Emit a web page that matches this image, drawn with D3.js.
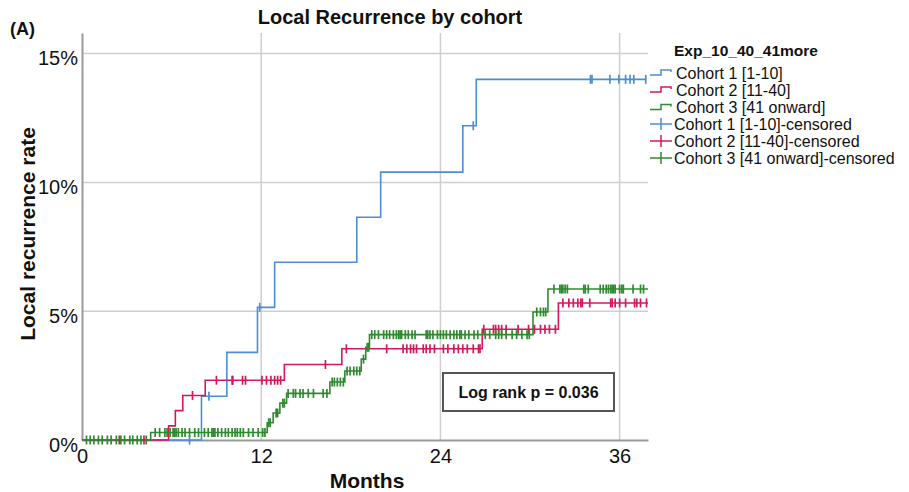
<!DOCTYPE html>
<html>
<head>
<meta charset="utf-8">
<script src="https://cdn.jsdelivr.net/npm/d3@7"></script>
<style>
  html, body { margin: 0; padding: 0; background: #fff; }
  svg { display: block; font-family: "Liberation Sans", Arial, Helvetica, sans-serif; }
</style>
</head>
<body>
<svg id="chart" width="909" height="492"></svg>
<script>
// Axis ticks
const xTicks = [0, 12, 24, 36];
const yTicks = [0, 5, 10, 15];

// Cohort labels
const cohortNames = ["Cohort 1 [1-10]", "Cohort 2 [11-40]", "Cohort 3 [41 onward]"];
const legendTitle = "Exp_10_40_41more";

// Cumulative local recurrence (%) — step times (months) and levels after each step
const c1Times = [0, 8.0, 9.7, 11.75, 12.9, 18.4, 20.0, 25.5, 26.4];
const c1Rates = [0, 1.7, 3.4, 5.15, 6.9, 8.65, 10.4, 12.2, 14.0];
const c1End = 37.75;
const c1Censored = [7.2, 8.5, 11.9, 26.2, 34.05, 34.15, 35.35, 35.95, 36.4, 36.7, 36.95, 37.75];

const c2Times = [0, 5.8, 6.25, 6.75, 8.25, 13.55, 17.4, 26.8, 31.9];
const c2Rates = [0, 0.55, 1.14, 1.73, 2.32, 2.93, 3.54, 4.3, 5.32];
const c2End = 37.9;
const c2Censored = [2.5, 4.15, 7.4, 9.0, 10.05, 10.1, 10.75, 10.95, 12.05, 12.35, 12.65, 12.9, 13.1, 13.3,
  16.3, 17.7, 20.4, 21.5, 21.75, 22.0, 22.2, 22.4, 22.85, 23.05, 23.3, 23.6, 24.2, 24.5, 24.9, 25.2,
  25.5, 25.8, 26.2, 26.55, 26.65, 26.9, 27.55, 27.7, 27.9, 28.1, 28.4, 29.2, 29.9, 30.3, 30.7, 31.0,
  31.3, 31.7, 32.2, 32.6, 32.9, 33.2, 33.4, 33.5, 34.0, 35.4, 35.5, 35.7, 36.0, 36.4, 37.0, 37.15,
  37.4, 37.8];

const c3Times = [0, 4.6, 12.4, 12.8, 13.25, 13.7, 16.6, 17.6, 18.7, 19.0, 19.25, 30.2, 31.2];
const c3Rates = [0, 0.29, 0.67, 1.05, 1.43, 1.81, 2.25, 2.68, 3.14, 3.6, 4.09, 4.97, 5.86];
const c3End = 37.9;
const c3Censored = [0.3, 0.55, 0.8, 1.1, 1.35, 1.7, 1.95, 2.3, 2.6, 2.85, 3.2, 3.4, 3.7, 3.95, 4.3,
  4.9, 5.2, 5.55, 5.7, 5.9, 6.1, 6.2, 6.3, 6.45, 6.7, 6.9, 7.2, 7.55, 7.8, 8.2, 8.45, 8.7, 8.8, 8.9,
  9.1, 9.35, 9.6, 9.8, 10.05, 10.25, 10.4, 10.6, 10.8, 11.15, 11.45, 11.8, 12.1, 12.25,
  12.5, 12.6, 13.0, 13.1, 13.45, 13.55,
  13.8, 14.15, 14.3, 14.6, 14.8, 15.15, 15.5, 16.15, 16.4,
  16.75, 16.9, 17.1, 17.3, 17.5, 17.75, 17.95, 18.2, 18.4, 18.6, 18.85, 19.1, 19.2,
  19.4, 19.6, 19.85, 20.2, 20.4, 20.6, 20.85, 21.05, 21.2, 21.3, 21.4, 21.65, 21.85, 22.1, 22.3,
  23.05, 23.15, 23.3, 23.5, 23.8, 24.0, 24.2, 24.4, 24.65, 24.9, 25.1, 25.3, 25.4, 25.65, 25.9,
  26.25, 26.5, 27.0, 27.3, 27.7, 27.9, 28.1, 28.4, 28.8, 29.1, 29.45, 29.8, 29.95,
  30.45, 30.7, 30.9, 31.05,
  31.6, 32.0, 32.1, 32.2, 32.35, 32.5, 33.6, 33.7, 33.9, 34.7, 34.9, 35.1, 35.25, 35.4, 35.5,
  35.6, 35.7, 36.0, 36.15, 36.25, 36.9, 37.4, 37.6];

const logRankText = "Log rank p = 0.036";

const colors = ["#4b8ed6", "#d3195a", "#2f8a2f"];

const cohorts = [
  { times: c1Times, rates: c1Rates, end: c1End, censored: c1Censored },
  { times: c2Times, rates: c2Rates, end: c2End, censored: c2Censored },
  { times: c3Times, rates: c3Rates, end: c3End, censored: c3Censored }
];

const svg = d3.select("#chart");

const x = d3.scaleLinear().domain([0, 37.9]).range([82, 648]);
const y = d3.scaleLinear().domain([0, 15.8]).range([440, 33]);

// Gridlines
const grid = svg.append("g");
grid.selectAll("line.h").data(yTicks.filter(d => d > 0)).join("line")
  .attr("x1", x(0)).attr("x2", x(37.9))
  .attr("y1", d => y(d)).attr("y2", d => y(d))
  .attr("stroke", "#cfcfcf").attr("stroke-width", 1.5);
grid.selectAll("line.v").data(xTicks.filter(d => d > 0)).join("line")
  .attr("x1", d => x(d)).attr("x2", d => x(d))
  .attr("y1", y(15.8)).attr("y2", y(0))
  .attr("stroke", "#cfcfcf").attr("stroke-width", 1.5);

// Axes
const xAxis = svg.append("g").attr("transform", `translate(0,${y(0)})`)
  .call(d3.axisBottom(x).tickValues(xTicks).tickSize(0).tickPadding(9));
const yAxis = svg.append("g").attr("transform", `translate(${x(0)},0)`)
  .call(d3.axisLeft(y).tickValues(yTicks).tickSize(0).tickPadding(4).tickFormat(d => d + "%"));
[xAxis, yAxis].forEach(a => {
  a.select(".domain").attr("stroke", "#9a9a9a").attr("stroke-width", 2);
  a.selectAll("text").attr("font-size", 20).attr("fill", "#111")
    .attr("font-family", "'Liberation Sans', Arial, sans-serif");
});
yAxis.selectAll(".tick text").attr("dy", "0.55em");

// Step curves
const stepValue = (c, t) => {
  let v = 0;
  for (let i = 0; i < c.times.length; i++) if (c.times[i] <= t) v = c.rates[i];
  return v;
};
const line = d3.line().x(d => x(d[0])).y(d => y(d[1])).curve(d3.curveStepAfter);

cohorts.forEach((c, i) => {
  const pts = c.times.map((t, k) => [t, c.rates[k]]);
  pts.push([c.end, c.rates[c.rates.length - 1]]);
  svg.append("path").datum(pts).attr("d", line)
    .attr("fill", "none").attr("stroke", colors[i]).attr("stroke-width", 1.6);
});

// Censor marks
cohorts.forEach((c, i) => {
  svg.append("g").selectAll("line").data(c.censored).join("line")
    .attr("x1", d => x(d)).attr("x2", d => x(d))
    .attr("y1", d => y(stepValue(c, d)) - 4.5)
    .attr("y2", d => y(stepValue(c, d)) + 4.5)
    .attr("stroke", colors[i]).attr("stroke-width", 1.7);
});

// Titles
svg.append("text").attr("x", 390).attr("y", 24).attr("text-anchor", "middle")
  .attr("font-size", 20).attr("font-weight", "bold").attr("fill", "#111")
  .text("Local Recurrence by cohort");
svg.append("text").attr("x", 10).attr("y", 35)
  .attr("font-size", 18).attr("font-weight", "bold").attr("fill", "#111").text("(A)");
svg.append("text").attr("x", 367).attr("y", 488).attr("text-anchor", "middle")
  .attr("font-size", 21).attr("font-weight", "bold").attr("fill", "#111").text("Months");
svg.append("text").attr("transform", "translate(35,234) rotate(-90)").attr("text-anchor", "middle")
  .attr("font-size", 21).attr("font-weight", "bold").attr("fill", "#111").text("Local recurrence rate");

// Log rank box
svg.append("rect").attr("x", 443).attr("y", 373).attr("width", 171).attr("height", 38)
  .attr("fill", "#fff").attr("stroke", "#555").attr("stroke-width", 2);
svg.append("text").attr("x", 528.5).attr("y", 392).attr("dy", "0.35em").attr("text-anchor", "middle")
  .attr("font-size", 16).attr("font-weight", "bold").attr("fill", "#111").text(logRankText);

// Legend
const leg = svg.append("g");
leg.append("text").attr("x", 674).attr("y", 51).attr("dy", "0.35em")
  .attr("font-size", 15.5).attr("font-weight", "bold").attr("fill", "#111").text(legendTitle);
const rowsY = [73, 90, 107.5, 124, 141, 158];
cohortNames.forEach((name, i) => {
  const yy = rowsY[i];
  leg.append("path")
    .attr("d", `M650,${yy + 2}H661V${yy - 3}H671V${yy - 1}`)
    .attr("fill", "none").attr("stroke", colors[i]).attr("stroke-width", 1.5);
  leg.append("text").attr("x", 676).attr("y", yy).attr("dy", "0.35em")
    .attr("font-size", 16).attr("fill", "#111").text(name);
});
cohortNames.forEach((name, i) => {
  const yy = rowsY[i + 3];
  leg.append("line").attr("x1", 650).attr("x2", 672).attr("y1", yy).attr("y2", yy)
    .attr("stroke", colors[i]).attr("stroke-width", 1.5);
  leg.append("line").attr("x1", 661).attr("x2", 661).attr("y1", yy - 6).attr("y2", yy + 6)
    .attr("stroke", colors[i]).attr("stroke-width", 1.5);
  leg.append("text").attr("x", 674).attr("y", yy).attr("dy", "0.35em")
    .attr("font-size", 16).attr("fill", "#111").text(name + "-censored");
});
</script>
</body>
</html>
